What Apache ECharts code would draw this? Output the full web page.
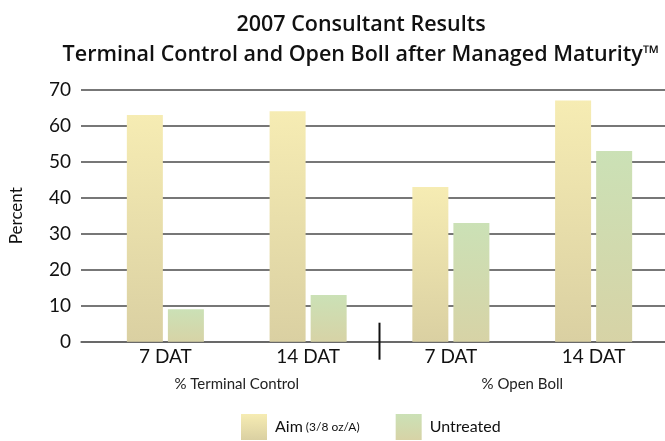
<!DOCTYPE html>
<html><head><meta charset="utf-8">
<script src="https://cdn.jsdelivr.net/npm/echarts@6/dist/echarts.min.js"></script>
<style>html,body{margin:0;padding:0;background:#fff}#c{width:665px;height:441px}</style>
</head><body><div id="c"></div>
<script>
const categories = ['7 DAT', '14 DAT', '7 DAT', '14 DAT'];
const groups = ['% Terminal Control', '% Open Boll'];
const aimValues = [63, 64, 43, 67];
const untreatedValues = [9, 13, 33, 53];
const yMin = 0, yMax = 70, yStep = 10;

const FONT = 'Lato';
const chart = echarts.init(document.getElementById('c'), null, {renderer: 'canvas'});
const grad = (a, b) => new echarts.graphic.LinearGradient(0, 0, 0, 1, [{offset: 0, color: a}, {offset: 1, color: b}]);
const aimColor = grad('#f6ecb3', '#dad0a2');
const untColor = grad('#cbe1b6', '#d7d3a6');

chart.setOption({
  animation: false,
  backgroundColor: '#fff',
  textStyle: {fontFamily: FONT},
  title: {
    text: '2007 Consultant Results\nTerminal Control and Open Boll after Managed Maturity\u2122',
    left: 356, top: 5, textAlign: 'center',
    textStyle: {fontFamily: 'Open Sans', fontSize: 21.5, fontWeight: 600, color: '#111', lineHeight: 30}
  },
  grid: [
    {left: 81, right: 0, top: 89.7, bottom: 99.3},
    {left: 94, right: 0, top: 89.7, bottom: 99.3}
  ],
  xAxis: [
    {gridIndex: 0, type: 'value', min: 0, max: 1, axisLabel: {show: false}, axisTick: {show: false}, splitLine: {show: false},
     axisLine: {show: true, lineStyle: {color: '#666', width: 1.5}}},
    {gridIndex: 1, type: 'category', data: categories, axisLine: {show: false}, axisTick: {show: false},
     axisLabel: {fontSize: 19, color: '#111', margin: 6, fontFamily: FONT}},
    {gridIndex: 1, type: 'category', data: groups, position: 'bottom', axisLine: {show: false}, axisTick: {show: false},
     axisLabel: {fontSize: 15, color: '#222', margin: 35, fontFamily: FONT}}
  ],
  yAxis: [
    {gridIndex: 0, type: 'value', min: yMin, max: yMax, interval: yStep,
     name: 'Percent', nameLocation: 'middle', nameGap: 56, nameRotate: 90,
     nameTextStyle: {fontSize: 17, color: '#111', fontFamily: FONT},
     axisLine: {show: false}, axisTick: {show: false},
     axisLabel: {fontSize: 19, color: '#111', margin: 10, fontFamily: FONT},
     splitLine: {show: true, lineStyle: {color: '#4a4a4a', width: 1.5}}},
    {gridIndex: 1, type: 'value', min: yMin, max: yMax, interval: yStep, show: false, splitLine: {show: false}}
  ],
  legend: {
    left: 236, top: 409, itemWidth: 26, itemHeight: 26, itemGap: 36,
    icon: 'rect',
    data: ['Aim', 'Untreated'],
    formatter: n => n === 'Aim' ? '{a|Aim} {b|(3/8 oz/A)}' : '{a|Untreated}',
    textStyle: {fontFamily: FONT, color: '#111', padding: [0, 0, 0, 3],
      rich: {a: {fontSize: 16, fontFamily: FONT, color: '#111'}, b: {fontSize: 12, fontFamily: FONT, color: '#111'}}}
  },
  series: [
    {name: 'Aim', type: 'bar', xAxisIndex: 1, yAxisIndex: 1, data: aimValues, barWidth: 36, barGap: '14%', itemStyle: {color: aimColor}},
    {name: 'Untreated', type: 'bar', xAxisIndex: 1, yAxisIndex: 1, data: untreatedValues, barWidth: 36, barGap: '14%', itemStyle: {color: untColor}}
  ]
});

const x0 = chart.convertToPixel({xAxisIndex: 2}, 0);
const x1 = chart.convertToPixel({xAxisIndex: 2}, 1);
const xd = (x0 + x1) / 2;
const yz = chart.convertToPixel({yAxisIndex: 1}, 0);
chart.setOption({
  graphic: [{type: 'line', shape: {x1: xd, y1: yz - 19, x2: xd, y2: yz + 18}, style: {stroke: '#111', lineWidth: 2}, z: 100}]
});
</script></body></html>
